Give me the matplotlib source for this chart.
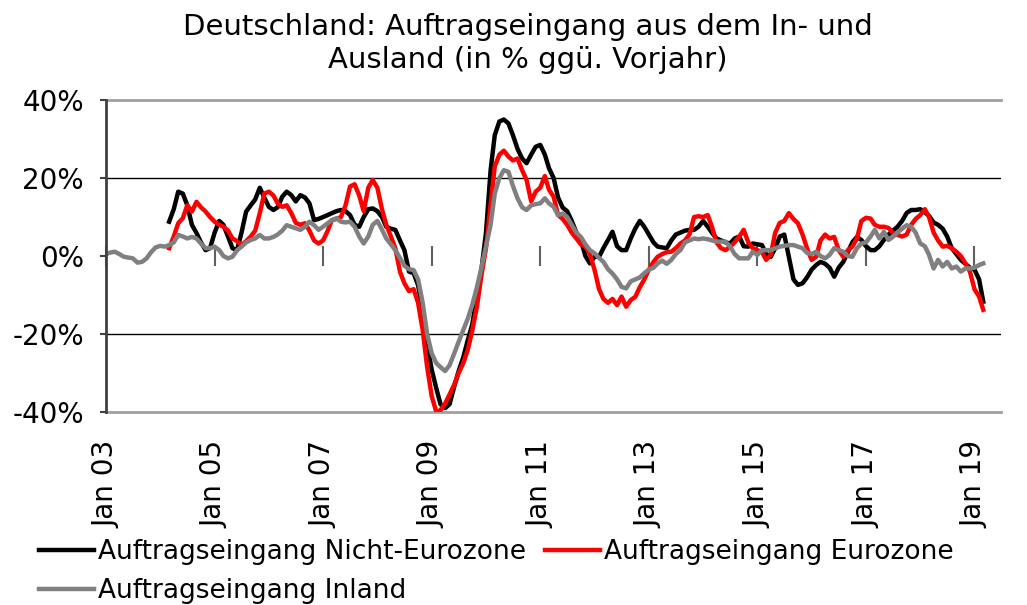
import numpy as np
import pandas as pd
import matplotlib
matplotlib.use('Agg')
import matplotlib.pyplot as plt

# monatliche Werte in % ggü. Vorjahr
# Inland: Jan 2003 - Mar 2019
inland = [
    0.5, 0.9, 1.1, 0.5, -0.2, -0.4, -0.6, -1.7, -1.5, -0.6, 1, 2.2,          # 2003
    2.6, 2.4, 2.8, 3.5, 5.4, 5, 4.5, 4.9, 4.5, 3.2, 2, 2,                   # 2004
    2.4, 1.5, 0, -0.6, -0.2, 1.5, 2.4, 3.5, 4.1, 4.5, 5.4, 4.5,             # 2005
    4.5, 4.9, 5.5, 6.5, 7.9, 7.5, 7.1, 6.7, 7.5, 8.8, 7.9, 6.7,             # 2006
    7.5, 8.4, 9.2, 9.7, 8.8, 8.6, 8.8, 7.5, 5, 3.2, 5, 8,                   # 2007
    9, 6.8, 4.5, 3, 1.5, -0.5, -2.5, -3.4, -3.6, -6, -12, -20,              # 2008
    -25, -27.5, -28.5, -29.5, -28, -25, -22, -19, -16, -12.5, -8, -3,       # 2009
    2.5, 8, 16, 20, 22, 21.6, 18, 14.8, 12.5, 11.8, 13, 13.3,               # 2010
    13.5, 14.8, 13.5, 12.6, 10.5, 10.9, 10, 8, 6, 4.9, 3, 1.5,              # 2011
    0.7, -0.5, -1.5, -3.4, -4.5, -6, -7.9, -8.3, -6.5, -6, -5.5, -4.4,      # 2012
    -3.5, -3, -1.9, -1.2, -2, -1, 0.5, 1.5, 3.5, 4, 4.5, 4.3,               # 2013
    4.5, 4.3, 4, 3.7, 3.7, 3.7, 2.4, 0.5, -0.6, -0.6, -0.6, 1.1,            # 2014
    0.3, 1.5, 1.5, 1.5, 2, 2.4, 2.6, 2.8, 2.8, 2.4, 2, 0.8,                 # 2015
    0.5, 1.1, 0, -0.6, 0.3, 2, 1.5, 1.1, 0, -0.2, 2, 3.2,                   # 2016
    3.5, 5, 6.7, 4.5, 6.2, 4.1, 4.9, 6, 7, 7.9, 7.5, 6,                     # 2017
    3.2, 2.5, 0.3, -3.2, -1, -2.7, -1.5, -3.2, -2.7, -4, -3.2, -3.2,        # 2018
    -3, -2.3, -1.9,                                                          # 2019
]

# Nicht-Eurozone: Mar 2004 - Mar 2019
nicht_eurozone = [
    8.8, 12, 16.5, 16, 13, 8, 5.9, 3.5, 1.5, 2,                             # 2004
    6, 9, 8, 5, 2, 1.5, 6, 11.4, 13, 14.5, 17.5, 15,                        # 2005
    12.6, 11.8, 12.5, 15.2, 16.5, 15.6, 14, 15.6, 15, 13.5, 9.2, 9.5,       # 2006
    10, 10.5, 11, 11.5, 11.8, 11.5, 10.5, 8, 7.5, 10, 12, 12.2,             # 2007
    11.5, 10, 7.5, 7, 6.7, 4, 1.5, -4, -4.4, -7.5, -14, -22.5,              # 2008
    -29.2, -34, -38, -39, -38, -33.5, -29.5, -26, -21.5, -17.5, -10, -3.6,  # 2009
    6, 22, 31, 34.5, 35, 34, 31, 27.5, 25, 23.8, 26, 28,                    # 2010
    28.5, 26, 22.5, 20, 15, 12.4, 11.5, 9, 6, 4, 0, -1.9,                   # 2011
    -0.2, -0.2, 2, 4.1, 6.2, 2.5, 1.5, 1.5, 4.5, 7, 9, 7.5,                 # 2012
    5.5, 3.5, 2.4, 2.2, 2, 4, 5.5, 6, 6.5, 6.7, 6.7, 7.5,                   # 2013
    9, 7.5, 6, 4.5, 4, 3.5, 3.2, 4.5, 5, 2.5, 2.4, 3.2,                     # 2014
    3, 2.8, 0.5, -0.2, 2, 5, 5.5, -0.2, -6, -7.4, -7, -5.5,                 # 2015
    -3.5, -2.3, -1.5, -2, -3, -5.3, -3, -1.5, 1, 3.5, 4.9, 4.1,             # 2016
    2.5, 1.5, 1.5, 2.5, 4.1, 5.5, 6.5, 7.5, 9, 11, 11.8, 11.8,              # 2017
    12, 11.2, 10.3, 8.6, 8, 7, 5, 2, 0.5, -1, -2, -3,                       # 2018
    -3.5, -6, -11.7,                                                         # 2019
]

# Eurozone: Mar 2004 - Mar 2019
eurozone = [
    2, 5, 8.4, 9.7, 13, 11.4, 13.9, 12.5, 11.4, 10,                         # 2004
    8.8, 8, 7.5, 6.5, 4.5, 3.8, 2.8, 3.8, 5, 6.5, 11, 16,                   # 2005
    16.5, 15.5, 13.5, 12.6, 13, 11, 8.5, 8, 8.4, 6.5, 4, 3.2,               # 2006
    4, 6.5, 9.2, 9.5, 10, 13, 17.8, 18.4, 15.5, 11.5, 17.5, 19.5,           # 2007
    17.5, 12, 8, 5, 2, -4, -7, -9, -8.5, -12, -19, -28.5,                   # 2008
    -36, -40, -39.5, -37.8, -35.5, -33, -30, -27.5, -24, -19, -13, -5,      # 2009
    2, 13, 23, 26, 27, 25.5, 24.5, 25, 22, 19.5, 14, 16.5,                  # 2010
    17.5, 20.5, 17, 15.2, 10.5, 9.5, 8, 6, 4.5, 3, 2.4, 0.5,                # 2011
    -3.5, -8.5, -11, -12, -11, -12.6, -10.4, -13, -11.3, -10.5, -8, -6,     # 2012
    -3.5, -1.5, -0.2, 0.5, 1, 1.1, 2, 3.2, 4, 5.5, 10, 10.2,                # 2013
    10, 10.5, 7.5, 3.5, 2, 1.5, 2.4, 3.5, 5, 6.7, 3.5, 2,                   # 2014
    1.5, 1, -1, 0.3, 6, 8.5, 9, 11, 9.5, 8.4, 5.5, 2,                       # 2015
    -1, -0.2, 4, 5.5, 4.5, 4.9, 1.5, -0.2, 1.5, 2.4, 4.5, 9,                # 2016
    9.8, 9.6, 8, 7.5, 7.5, 7.2, 6, 5.4, 5, 5.5, 8, 9.5,                     # 2017
    10.5, 12, 10, 6, 4, 2.4, 2.6, 2, 1.1, 0, -1.9, -4,                      # 2018
    -8.5, -10.4, -13.8,                                                      # 2019
]

tick_years = ['03', '05', '07', '09', '11', '13', '15', '17', '19']

dates_inland = pd.date_range('2003-01-01', periods=len(inland), freq='MS')
dates_ausland = pd.date_range('2004-03-01', periods=len(eurozone), freq='MS')

fig = plt.figure(figsize=(10.27, 6.05), dpi=100)
ax = fig.add_axes([0.1032, 0.319, 0.871, 0.5157])

ax.plot(dates_ausland, nicht_eurozone, color='#000000', lw=3.2, label='Auftragseingang Nicht-Eurozone')
ax.plot(dates_ausland, eurozone, color='#FF0000', lw=3.2, label='Auftragseingang Eurozone')
ax.plot(dates_inland, inland, color='#808080', lw=3.2, label='Auftragseingang Inland')

ax.set_ylim(-40, 40)
ax.set_xlim(pd.Timestamp('2003-01-01'), pd.Timestamp('2019-06-25'))

# Gitterlinien
for y in (20, -20):
    ax.axhline(y, color='black', lw=1, zorder=0)
for y in (40, -40):
    ax.axhline(y, color='#A0A0A0', lw=2, zorder=0, clip_on=False)

for s in ('top', 'right', 'bottom'):
    ax.spines[s].set_visible(False)
ax.spines['left'].set_color('#404040')
ax.spines['left'].set_linewidth(2)

ax.set_yticks([-40, -20, 0, 20, 40])
ax.set_yticklabels(['-40%', '-20%', '0%', '20%', '40%'], fontsize=20)
ax.tick_params(axis='y', length=4, width=1.5, color='#404040', pad=12)

xt = [pd.Timestamp('20%s-01-01' % y) for y in tick_years]
ax.set_xticks(xt)
ax.set_xticklabels(['Jan ' + y for y in tick_years], rotation=90, fontsize=20)
ax.tick_params(axis='x', length=0, pad=21)

# Nulllinie mit Teilstrichen
sec = ax.secondary_xaxis(0.5)
sec.set_xticks(xt)
sec.set_xticklabels([])
sec.tick_params(axis='x', direction='inout', length=14, width=1.5, color='#606060')
sec.spines['bottom'].set_color('#808080')
sec.spines['bottom'].set_linewidth(2.2)
sec.spines['top'].set_visible(False)

fig.text(0.514, 0.978, 'Deutschland: Auftragseingang aus dem In- und\nAusland (in % ggü. Vorjahr)',
         ha='center', va='top', fontsize=21, linespacing=1.2)

h, l = ax.get_legend_handles_labels()
order = [0, 2, 1]
fig.legend([h[i] for i in order], [l[i] for i in order], loc='upper left',
           bbox_to_anchor=(0.038, 0.109), ncol=2, frameon=False, fontsize=19,
           handlelength=2.1, handletextpad=0.15, columnspacing=0.7,
           labelspacing=0.5, borderaxespad=0, borderpad=0)

fig.savefig('out.png', dpi=100)
